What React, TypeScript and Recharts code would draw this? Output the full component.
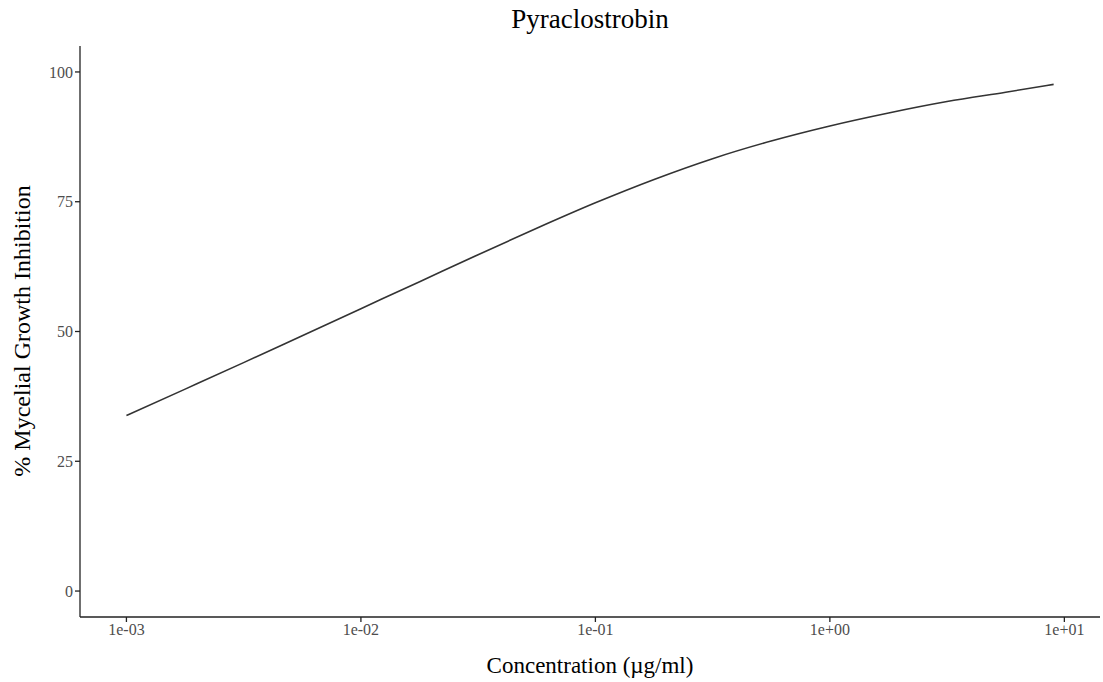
import { LineChart, Line, XAxis, YAxis } from 'recharts'

// concentration (µg/ml), log-spaced, and fitted % inhibition
const concentrations = [
  0.001, 0.00178, 0.00316, 0.00562, 0.01, 0.0178, 0.0316, 0.0562,
  0.1, 0.178, 0.316, 0.562, 1, 1.78, 3.16, 5.62, 9,
]
const inhibition = [
  33.8, 38.9, 44.0, 49.2, 54.4, 59.6, 64.8, 69.9,
  74.8, 79.3, 83.3, 86.7, 89.6, 92.1, 94.3, 96.1, 97.6,
]
const xTicks = [0.001, 0.01, 0.1, 1, 10]
const yTicks = [0, 25, 50, 75, 100]

const W = 1103
const H = 682
const SERIF = '"Liberation Serif", "DejaVu Serif", serif'
const INK = '#222222'
const TICK_TEXT = '#4d4d4d'

function fmtSci(v: number): string {
  const exp = Math.round(Math.log10(v))
  const sign = exp < 0 ? '-' : '+'
  return `1e${sign}${String(Math.abs(exp)).padStart(2, '0')}`
}

export default function App() {
  const data = concentrations.map((c, i) => ({ conc: c, pct: inhibition[i] }))

  return (
    <div style={{ position: 'absolute', left: 0, top: 0, width: W, height: H, background: '#fff' }}>
      {/* title */}
      <div
        style={{
          position: 'absolute',
          left: 80,
          width: 1020,
          top: 4,
          textAlign: 'center',
          fontFamily: SERIF,
          fontSize: 27,
          color: '#000',
        }}
      >
        Pyraclostrobin
      </div>

      {/* y axis title */}
      <div
        style={{
          position: 'absolute',
          left: 22,
          top: 331,
          transform: 'translate(-50%, -50%) rotate(-90deg)',
          whiteSpace: 'nowrap',
          fontFamily: SERIF,
          fontSize: 24,
          color: '#000',
        }}
      >
        % Mycelial Growth Inhibition
      </div>

      <LineChart
        width={W}
        height={H}
        data={data}
        margin={{ top: 46, right: 3, bottom: 0, left: 0 }}
        style={{ position: 'absolute', left: 0, top: 0 }}
      >
        <XAxis
          dataKey="conc"
          type="number"
          scale="log"
          domain={[Math.pow(10, -3.198), Math.pow(10, 1.152)]}
          allowDataOverflow
          ticks={xTicks}
          tickFormatter={fmtSci}
          height={65}
          stroke={INK}
          strokeWidth={1.3}
          tickSize={5}
          tick={{ fontFamily: SERIF, fontSize: 16, fill: TICK_TEXT }}
          label={{
            value: 'Concentration (µg/ml)',
            position: 'insideBottom',
            offset: 9,
            style: { fontFamily: SERIF, fontSize: 23, fill: '#000' },
          }}
        />
        <YAxis
          type="number"
          domain={[-5, 105]}
          ticks={yTicks}
          width={80}
          stroke={INK}
          strokeWidth={1.3}
          tickSize={5}
          tick={{ fontFamily: SERIF, fontSize: 16, fill: TICK_TEXT }}
        />
        <Line
          type="monotone"
          dataKey="pct"
          stroke="#333333"
          strokeWidth={1.6}
          dot={false}
          isAnimationActive={false}
        />
      </LineChart>
    </div>
  )
}
